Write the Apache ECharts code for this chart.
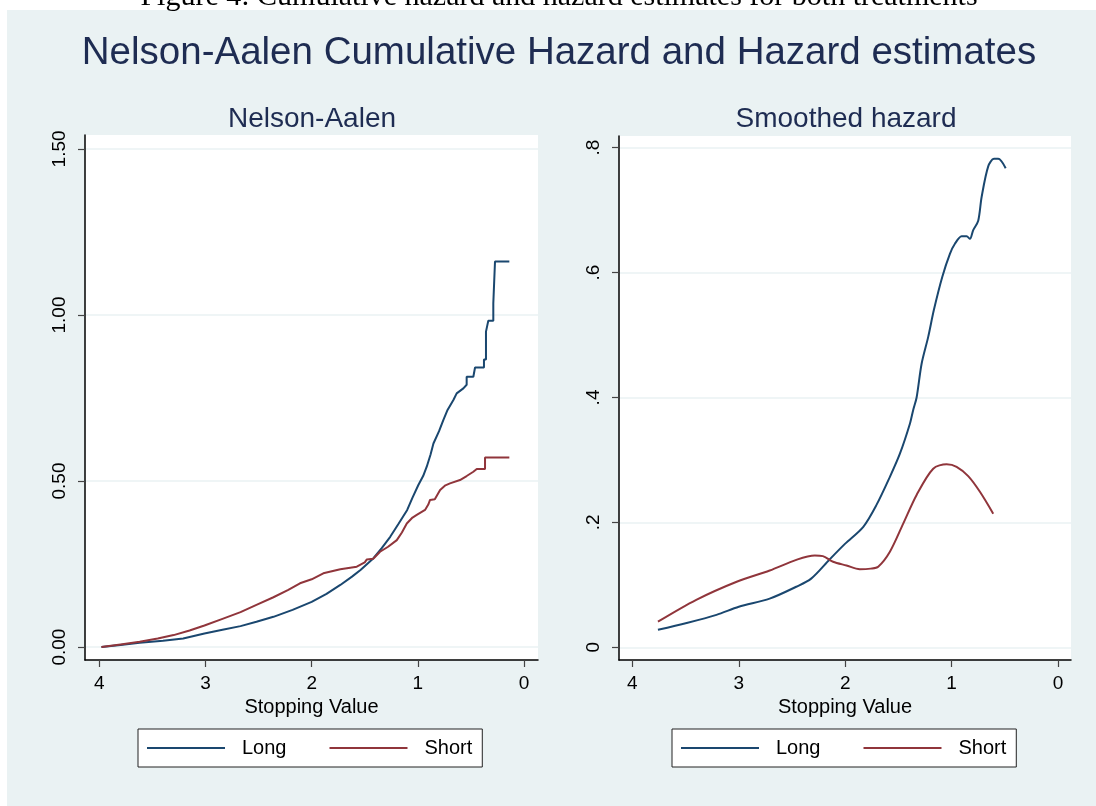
<!DOCTYPE html>
<html>
<head>
<meta charset="utf-8">
<script src="https://cdn.jsdelivr.net/npm/echarts@6/dist/echarts.min.js"></script>
<style>html,body{margin:0;padding:0;background:#fff;}#c{width:1096px;height:806px;}</style>
</head>
<body>
<div id="c"></div>
<script>
// ---- data ----
const seriesNames = ['Long', 'Short'];
const xTicks = [0, 1, 2, 3, 4];
const naTicks = [0, 0.5, 1, 1.5];
const hzTicks = [0, 0.2, 0.4, 0.6, 0.8];

// Nelson-Aalen cumulative hazard, [stopping value, H]
const naLong = [[3.98,0],[3.80,0.006],[3.62,0.013],[3.40,0.019],[3.21,0.026],[3.01,0.041],[2.84,0.052],[2.67,0.063],[2.52,0.076],[2.36,0.091],[2.18,0.112],[2.0,0.136],[1.86,0.160],[1.73,0.187],[1.62,0.212],[1.54,0.232],[1.42,0.267],[1.34,0.298],[1.26,0.332],[1.18,0.372],[1.10,0.413],[1.05,0.450],[0.995,0.488],[0.95,0.515],[0.916,0.543],[0.88,0.580],[0.853,0.613],[0.80,0.650],[0.759,0.684],[0.72,0.714],[0.665,0.744],[0.634,0.764],[0.571,0.779],[0.540,0.790],[0.540,0.814],[0.477,0.814],[0.461,0.842],[0.377,0.842],[0.377,0.866],[0.358,0.866],[0.358,0.950],[0.336,0.983],[0.289,0.983],[0.289,1.035],[0.273,1.161],[0.138,1.161]];
const naShort = [[3.98,0],[3.80,0.008],[3.62,0.016],[3.45,0.026],[3.30,0.036],[3.15,0.050],[3.01,0.065],[2.84,0.085],[2.67,0.105],[2.52,0.127],[2.36,0.150],[2.22,0.172],[2.11,0.192],[2.0,0.204],[1.89,0.222],[1.73,0.234],[1.575,0.242],[1.50,0.255],[1.48,0.264],[1.42,0.266],[1.356,0.287],[1.28,0.302],[1.198,0.322],[1.15,0.345],[1.104,0.372],[1.05,0.390],[1.01,0.398],[0.932,0.413],[0.90,0.430],[0.885,0.443],[0.84,0.445],[0.79,0.473],[0.74,0.487],[0.697,0.493],[0.603,0.503],[0.54,0.515],[0.477,0.528],[0.445,0.536],[0.367,0.536],[0.367,0.571],[0.138,0.571]];

// Smoothed hazard, [stopping value, h]
const hzLong = [[3.76,0.028],[3.49,0.039],[3.21,0.052],[3.0,0.065],[2.71,0.078],[2.46,0.097],[2.32,0.110],[2.145,0.141],[2.0,0.166],[1.83,0.193],[1.706,0.228],[1.58,0.273],[1.486,0.310],[1.392,0.358],[1.361,0.380],[1.329,0.400],[1.282,0.454],[1.22,0.497],[1.167,0.540],[1.088,0.593],[1.016,0.630],[0.969,0.646],[0.906,0.658],[0.859,0.658],[0.828,0.654],[0.797,0.668],[0.75,0.683],[0.718,0.721],[0.656,0.770],[0.602,0.782],[0.562,0.782],[0.492,0.767]];
const hzShort = [[3.76,0.041],[3.40,0.076],[3.02,0.105],[2.71,0.123],[2.46,0.140],[2.286,0.147],[2.21,0.146],[2.114,0.137],[1.988,0.131],[1.863,0.125],[1.76,0.126],[1.69,0.129],[1.58,0.153],[1.455,0.198],[1.329,0.244],[1.173,0.286],[1.047,0.293],[0.953,0.289],[0.844,0.274],[0.734,0.249],[0.609,0.214]];

// ---- styling ----
const FONT = 'Liberation Sans, Arial, sans-serif';
const NAVY = '#1A476F', MAROON = '#90353B';
const BG = '#EAF2F3', TITLE = '#1E2C52';

function xAxis(gi, min, max) {
  return {
    type: 'value', gridIndex: gi, inverse: true, min: min, max: max,
    name: 'Stopping Value', nameLocation: 'middle', nameGap: 33,
    nameTextStyle: { fontFamily: FONT, fontSize: 20, color: '#000' },
    axisLine: { show: true, onZero: false, lineStyle: { color: '#000', width: 1.5 } },
    axisTick: { show: true, length: 7, customValues: xTicks, lineStyle: { color: '#444', width: 1.2 } },
    axisLabel: { customValues: xTicks, margin: 14, fontFamily: FONT, fontSize: 19, color: '#000' },
    splitLine: { show: false }
  };
}
function yAxis(gi, min, max, ticks, fmt) {
  return {
    type: 'value', gridIndex: gi, min: min, max: max,
    axisLine: { show: true, onZero: false, lineStyle: { color: '#000', width: 1.5 } },
    axisTick: { show: true, length: 7, customValues: ticks, lineStyle: { color: '#444', width: 1.2 } },
    axisLabel: { customValues: ticks, rotate: 90, margin: 16, fontFamily: FONT, fontSize: 19, color: '#000', formatter: fmt },
    splitLine: { show: true, lineStyle: { color: BG, width: 1.5 } }
  };
}
function legend(left) {
  return {
    data: seriesNames, left: left, top: 729, orient: 'horizontal',
    backgroundColor: '#fff', borderColor: '#222', borderWidth: 1,
    padding: [9, 10, 9, 9], itemGap: 43, itemWidth: 78, itemHeight: 2,
    icon: 'rect', selectedMode: false,
    textStyle: { fontFamily: FONT, fontSize: 20, color: '#000', padding: [0, 0, 0, 12] }
  };
}
function line(name, data, xi, color, smooth) {
  return {
    type: 'line', name: name, data: data, xAxisIndex: xi, yAxisIndex: xi,
    symbol: 'none', smooth: smooth, color: color,
    lineStyle: { color: color, width: 2 }, animation: false
  };
}

const chart = echarts.init(document.getElementById('c'), null, { renderer: 'canvas' });
chart.setOption({
  backgroundColor: '#fff',
  animation: false,
  graphic: [
    { type: 'rect', z: -100, shape: { x: 7, y: 10, width: 1089, height: 796 }, style: { fill: BG }, silent: true },
    { type: 'text', z: 100, x: 559, y: 12, style: { text: 'Figure 4: Cumulative hazard and hazard estimates for both treatments', fill: '#000', font: '30px "Liberation Serif", "DejaVu Serif", serif', align: 'center', verticalAlign: 'bottom' } }
  ],
  title: [
    { text: 'Nelson-Aalen Cumulative Hazard and Hazard estimates', left: 554, textAlign: 'center', top: 29, textStyle: { fontFamily: FONT, fontSize: 38.5, fontWeight: 'normal', color: TITLE } },
    { text: 'Nelson-Aalen', left: 307, textAlign: 'center', top: 100, textStyle: { fontFamily: FONT, fontSize: 28, fontWeight: 'normal', color: TITLE } },
    { text: 'Smoothed hazard', left: 841, textAlign: 'center', top: 100, textStyle: { fontFamily: FONT, fontSize: 28, fontWeight: 'normal', color: TITLE } }
  ],
  legend: [legend(138), legend(672)],
  grid: [
    { left: 85, top: 135, width: 453, height: 525, show: true, backgroundColor: '#fff', borderWidth: 0 },
    { left: 619, top: 136, width: 452, height: 524, show: true, backgroundColor: '#fff', borderWidth: 0 }
  ],
  xAxis: [xAxis(0, -0.132, 4.135), xAxis(1, -0.122, 4.126)],
  yAxis: [
    yAxis(0, -0.039, 1.542, naTicks, v => v.toFixed(2)),
    yAxis(1, -0.0203, 0.8186, hzTicks, v => v === 0 ? '0' : String(v).replace(/^0/, ''))
  ],
  series: [
    line('Long', naLong, 0, NAVY, false),
    line('Short', naShort, 0, MAROON, false),
    line('Long', hzLong, 1, NAVY, 0.3),
    line('Short', hzShort, 1, MAROON, 0.3)
  ]
});
</script>
</body>
</html>
